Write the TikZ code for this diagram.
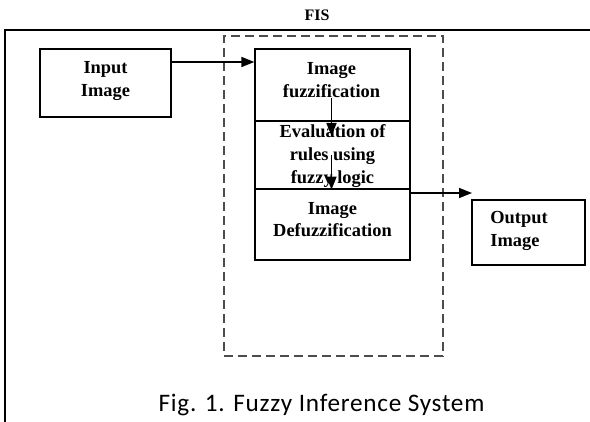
\documentclass[tikz,border=0pt]{standalone}
\usepackage{fontspec}
\setmainfont{Liberation Serif}
\newfontfamily\capfont[LetterSpace=3]{Carlito}
\usepackage{tikz}
\usetikzlibrary{arrows.meta}
\usetikzlibrary{positioning}

\begin{document}
\begin{tikzpicture}[x=.5pt,y=-.5pt,
  box/.style={draw,line width=.65pt,inner sep=0pt},
  lbl/.style={font=\fontsize{9.2pt}{11.3pt}\bfseries\selectfont,align=center,inner sep=0pt},
  flow/.style={line width=.8pt,-{Triangle[length=6.5pt,width=5pt]}},
  fisbox/.style={draw=black!70,line width=1.1pt,dash pattern=on 4.5pt off 2.5pt}]
\useasboundingbox (0,0) rectangle (590,422);
\draw[line width=1.3pt] (5,422)--(5,30)--(590,30);
\node[fisbox,minimum width=109.5pt,minimum height=160pt] (fis) at (333.5,196) {};
\node[lbl,anchor=base,font=\fontsize{8pt}{9pt}\bfseries\selectfont] (fislbl) at (317,21) {FIS};
% input and output
\node[box,minimum width=65.5pt,minimum height=34pt] (in) at (105.5,83) {};
\node[lbl] (inlbl) at (105.5,81) {Input\\Image};
\node[box,minimum width=56.5pt,minimum height=32.5pt] (out) at (528.5,232.5) {};
\node[lbl,align=left,anchor=west] (outlbl) at (490,231) {Output\\Image};
% the three stages
\node[box,minimum width=77.5pt,minimum height=36pt] (fuzz) at (332.5,85) {};
\node[box,minimum width=77.5pt,minimum height=34pt] (eval) at (332.5,155) {};
\node[box,minimum width=77.5pt,minimum height=35.5pt] (defuzz) at (332.5,224.5) {};
\node[lbl] (fuzzlbl) at (331.5,80) {Image\\fuzzification};
\node[lbl] (evallbl) at (332.5,156) {Evaluation of\\rules using\\fuzzy logic};
\node[lbl] (defuzzlbl) at (332.5,219.5) {Image\\Defuzzification};
\coordinate (evalmid) at (331.5,155);
\coordinate (outarr) at (472,193);
\draw[flow] (in.east |- 0,62)--(fuzz.west |- 0,62);
\draw[flow] (fuzzlbl.south)--(fuzzlbl.south |- 0,136);
\draw[flow] (evalmid)--(evalmid |- eval.south);
\draw[flow] (defuzz.east |- outarr)--(outarr);
\node[anchor=base,font=\capfont\fontsize{12.6pt}{14pt}\selectfont] (cap) at (321.5,412) {Fig. 1. Fuzzy Inference System};
\end{tikzpicture}
\end{document}
